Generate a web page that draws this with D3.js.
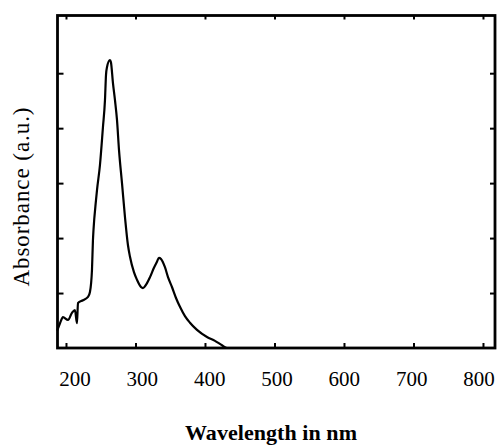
<!DOCTYPE html>
<html>
<head>
<meta charset="utf-8">
<script src="https://cdn.jsdelivr.net/npm/d3@7"></script>
<style>
  html, body { margin: 0; padding: 0; background: #fff; }
  svg { display: block; }
</style>
</head>
<body>
<svg id="chart" width="499" height="445"></svg>
<script>
// ---- data ----
const wavelength = [187.8,191.4,195.7,202.9,208.6,212.9,215.8,217.3,224.5,231.7,234.5,237.4,238.8,239.6,243.2,244.6,248.9,253.2,256.1,257.6,259,263.3,264.7,267.6,270.5,273.4,276.3,280.6,284.9,289.2,292.1,297.8,302.2,307.9,310.8,315.1,320.9,326.6,330.9,333.8,336.7,342.4,346.8,352.5,358.3,364,371.2,378.4,388.5,402.9,414.4,424.5,431.7,500,600];
const absorbance = [0.33,0.45,0.56,0.51,0.64,0.69,0.45,0.82,0.87,0.93,1.02,1.42,1.96,2.15,2.69,2.87,3.33,4.02,4.51,4.97,5.11,5.24,5.20,4.82,4.51,4.15,3.60,3.00,2.38,1.87,1.66,1.38,1.24,1.11,1.09,1.15,1.29,1.46,1.57,1.64,1.62,1.47,1.29,1.11,0.91,0.75,0.58,0.46,0.33,0.20,0.13,0.05,0,0,0];
const xTicks = [200,300,400,500,600,700,800];
const yTicks = [1,2,3,4,5];
const xTitle = "Wavelength in nm";
const yTitle = "Absorbance (a.u.)";

// ---- layout ----
const svg = d3.select("#chart");
const L = 57.5, R = 495, T = 15.5, B = 348;
const x = d3.scaleLinear().domain([187.8, 817.3]).range([L, R]);
const y = d3.scaleLinear().domain([0, 6.05]).range([B, T]);
// tick labels in the scan sit on a slightly compressed spacing
const xLab = d3.scaleLinear().domain([200, 800]).range([75, 479]);

const serif = "'Liberation Serif','Times New Roman',Times,serif";

// frame ticks via d3 axes (inward)
const tickStyle = g => {
  g.select(".domain").remove();
  g.selectAll("line").attr("stroke", "#000").attr("stroke-width", 2);
  g.selectAll("text").remove();
};
svg.append("g").attr("transform", `translate(0,${B})`)
  .call(d3.axisTop(x).tickValues(xTicks).tickSize(5)).call(tickStyle);
svg.append("g").attr("transform", `translate(0,${T})`)
  .call(d3.axisBottom(x).tickValues(xTicks).tickSize(4)).call(tickStyle);
svg.append("g").attr("transform", `translate(${L},0)`)
  .call(d3.axisRight(y).tickValues(yTicks).tickSize(6)).call(tickStyle);
svg.append("g").attr("transform", `translate(${R},0)`)
  .call(d3.axisLeft(y).tickValues(yTicks).tickSize(5)).call(tickStyle);

// frame
svg.append("rect")
  .attr("x", L).attr("y", T).attr("width", R - L).attr("height", B - T)
  .attr("fill", "none").attr("stroke", "#000").attr("stroke-width", 2.8);

// curve
const pts = wavelength.map((w, i) => [w, absorbance[i]]);
svg.append("path")
  .datum(pts)
  .attr("fill", "none")
  .attr("stroke", "#000")
  .attr("stroke-width", 2.2)
  .attr("stroke-linejoin", "round")
  .attr("stroke-linecap", "round")
  .attr("d", d3.line().x(d => x(d[0])).y(d => y(d[1])).curve(d3.curveMonotoneX));

// x tick labels
svg.append("g").selectAll("text").data(xTicks).join("text")
  .attr("x", d => xLab(d))
  .attr("y", 386)
  .attr("text-anchor", "middle")
  .attr("font-family", serif)
  .attr("font-size", 21)
  .attr("fill", "#000")
  .text(d => d);

// axis titles
svg.append("text")
  .attr("x", 271).attr("y", 440)
  .attr("text-anchor", "middle")
  .attr("font-family", serif)
  .attr("font-weight", "bold")
  .attr("font-size", 22)
  .attr("textLength", 172)
  .attr("lengthAdjust", "spacing")
  .attr("fill", "#000")
  .text(xTitle);

svg.append("text")
  .attr("transform", "translate(29,197) rotate(-90)")
  .attr("text-anchor", "middle")
  .attr("font-family", serif)
  .attr("font-size", 23)
  .attr("textLength", 179)
  .attr("lengthAdjust", "spacing")
  .attr("fill", "#000")
  .text(yTitle);
</script>
</body>
</html>
